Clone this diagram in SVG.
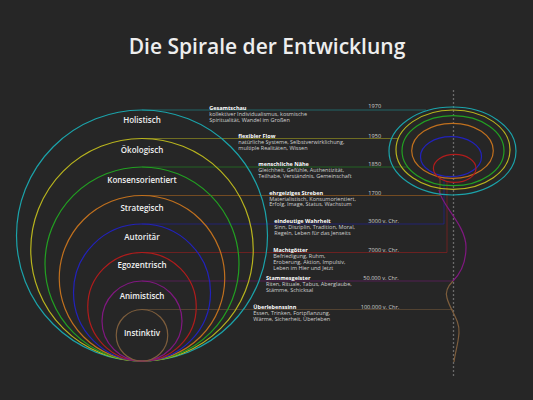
<svg xmlns="http://www.w3.org/2000/svg" width="533" height="400" viewBox="0 0 533 400">
<style>
.bg{fill:#262626}
.ring{fill:none;stroke-width:1.2}
.lvl{font-family:"Open Sans","Liberation Sans",sans-serif;font-weight:600;font-size:8px;fill:#f0f0f0;text-anchor:middle}
.hd{font-family:"Open Sans","Liberation Sans",sans-serif;font-weight:700;font-size:5.5px;fill:#ffffff}
.ds{font-family:"Open Sans","Liberation Sans",sans-serif;font-weight:400;font-size:5.5px;fill:#cfcfcf}
.yr{font-family:"Open Sans","Liberation Sans",sans-serif;font-weight:400;font-size:5.6px;fill:#cfcfcf}
.ln{fill:none;stroke-width:1;stroke-opacity:0.5}
.teal{stroke:#1ba3aa}.yel{stroke:#b8b41e}.grn{stroke:#22a022}.org{stroke:#c0701e}
.blu{stroke:#2222bb}.red{stroke:#b01c1c}.pur{stroke:#801880}.brn{stroke:#7d5d3c}
</style>
<rect class="bg" x="0" y="0" width="533" height="400"/>
<text x="267" y="54.3" font-family="Open Sans, Liberation Sans, sans-serif" font-size="21" font-weight="600" fill="#eeeeee" text-anchor="middle">Die Spirale der Entwicklung</text>

<g id="connectors">
  <line class="ln teal" x1="142" y1="110" x2="426" y2="110"/>
  <line class="ln yel" x1="142" y1="138.5" x2="398" y2="138.5"/>
  <line class="ln grn" x1="142" y1="167" x2="408" y2="167"/>
  <polyline class="ln org" points="142,195.5 440,195.5 440,177"/>
  <polyline class="ln blu" points="142,224 444,224 444,176"/>
  <polyline class="ln red" points="142,252.5 447,252.5 447,181"/>
  <line class="ln pur" x1="142" y1="281" x2="453" y2="281"/>
  <line class="ln brn" x1="142" y1="309.5" x2="453" y2="309.5"/>
  <line x1="453.5" y1="90" x2="453.5" y2="376" stroke="#6a6a6a" stroke-width="1.3" stroke-dasharray="2 2"/>
  <path class="ring pur" d="M439 190 C441 205,466 225,466 247 C466 265,459 275,453 281"/>
  <path class="ring brn" d="M453 281 C448 286,445 292,447 298 C450 310,460 320,459 333 C458 345,455 353,454 362"/>
</g>

<g id="n-holistisch">
  <circle class="ring teal" cx="142" cy="235.5" r="125.5"/>
  <ellipse class="ring teal" cx="452.5" cy="151" rx="63.5" ry="44"/>
  <text class="lvl" x="142" y="123">Holistisch</text>
  <text class="hd" x="209.3" y="109.7">Gesamtschau</text>
  <text class="ds" x="209.3" y="116">kollektiver Individualismus, kosmische</text>
  <text class="ds" x="209.3" y="121.7">Spiritualität, Wandel im Großen</text>
  <text class="yr" x="368.3" y="108">1970</text>
</g>
<g id="n-oekologisch">
  <circle class="ring yel" cx="142" cy="249.75" r="111.25"/>
  <ellipse class="ring yel" cx="453" cy="149.7" rx="57" ry="39.7"/>
  <text class="lvl" x="142" y="153">Ökologisch</text>
  <text class="hd" x="238.3" y="137.7">flexibler Flow</text>
  <text class="ds" x="238.3" y="143.7">natürliche Systeme, Selbstverwirklichung,</text>
  <text class="ds" x="238.3" y="149.7">multiple Realitäten, Wissen</text>
  <text class="yr" x="368.3" y="137.7">1950</text>
</g>
<g id="n-konsensorientiert">
  <circle class="ring grn" cx="142" cy="264" r="97"/>
  <ellipse class="ring grn" cx="453" cy="150.7" rx="51" ry="35"/>
  <text class="lvl" x="142" y="183">Konsensorientiert</text>
  <text class="hd" x="258.3" y="166">menschliche Nähe</text>
  <text class="ds" x="258.3" y="172">Gleichheit, Gefühle, Authentizität,</text>
  <text class="ds" x="258.3" y="178">Teilhabe,  Verständnis, Gemeinschaft</text>
  <text class="yr" x="368.3" y="166">1850</text>
</g>
<g id="n-strategisch">
  <circle class="ring org" cx="142" cy="278.25" r="82.75"/>
  <ellipse class="ring org" cx="452.5" cy="150.8" rx="40.8" ry="27.5"/>
  <text class="lvl" x="142" y="210.7">Strategisch</text>
  <text class="hd" x="269.3" y="194.7">ehrgeiziges Streben</text>
  <text class="ds" x="269.3" y="201">Materialistisch, Konsumorientiert,</text>
  <text class="ds" x="269.3" y="206.3">Erfolg, Image, Status, Wachstum</text>
  <text class="yr" x="368.3" y="194.7">1700</text>
</g>
<g id="n-autoritaer">
  <circle class="ring blu" cx="142" cy="292.5" r="68.5"/>
  <ellipse class="ring blu" cx="451" cy="156.7" rx="30.5" ry="20"/>
  <text class="lvl" x="142" y="240.3">Autoritär</text>
  <text class="hd" x="274.3" y="223">eindeutige Wahrheit</text>
  <text class="ds" x="274.3" y="229">Sinn, Disziplin, Tradition, Moral,</text>
  <text class="ds" x="274.3" y="234.7">Regeln, Leben für das Jenseits</text>
  <text class="yr" x="368.3" y="223">3000 v. Chr.</text>
</g>
<g id="n-egozentrisch">
  <circle class="ring red" cx="142" cy="306.75" r="54.25"/>
  <ellipse class="ring red" cx="454.7" cy="168.3" rx="21.3" ry="14"/>
  <text class="lvl" x="142" y="268">Egozentrisch</text>
  <text class="hd" x="273.3" y="252">Machtgötter</text>
  <text class="ds" x="273.3" y="258">Befriedigung, Ruhm,</text>
  <text class="ds" x="273.3" y="264">Eroberung, Aktion, Impulsiv,</text>
  <text class="ds" x="273.3" y="269.7">Leben im Hier und Jetzt</text>
  <text class="yr" x="368.3" y="252">7000 v. Chr.</text>
</g>
<g id="n-animistisch">
  <circle class="ring pur" cx="142" cy="321" r="40"/>
  <text class="lvl" x="142" y="299">Animistisch</text>
  <text class="hd" x="266" y="280.3">Stammesgeister</text>
  <text class="ds" x="266" y="286.3">Riten, Rituale, Tabus, Aberglaube,</text>
  <text class="ds" x="266" y="292">Stämme, Schicksal</text>
  <text class="yr" x="363.3" y="280.3">50.000 v. Chr.</text>
</g>
<g id="n-instinktiv">
  <circle class="ring brn" cx="142" cy="335.25" r="25.75"/>
  <text class="lvl" x="142" y="336.3">Instinktiv</text>
  <text class="hd" x="253.3" y="309.3">Überlebenssinn</text>
  <text class="ds" x="253.3" y="315.3">Essen, Trinken, Fortpflanzung,</text>
  <text class="ds" x="253.3" y="321">Wärme, Sicherheit, Überleben</text>
  <text class="yr" x="360.7" y="309.3">100.000 v. Chr.</text>
</g>
</svg>
